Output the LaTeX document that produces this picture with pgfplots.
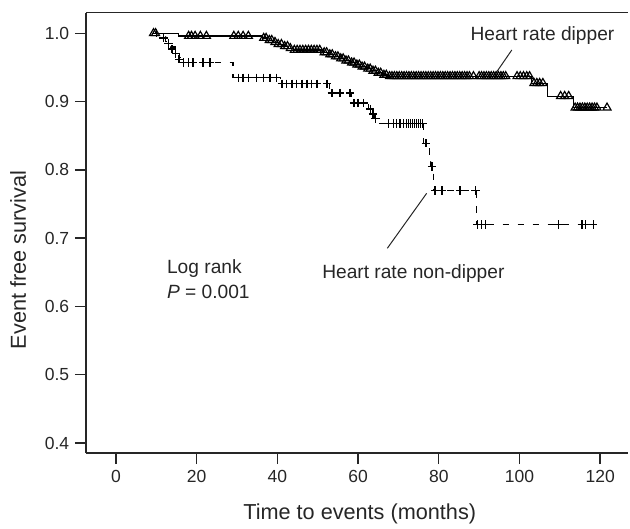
\documentclass[border=0pt]{standalone}
\usepackage{pgfplots}
\pgfplotsset{compat=1.18}
\usepackage{fontspec}
\setmainfont{Liberation Sans}
\definecolor{ink}{gray}{0.15}

\begin{document}
\begin{tikzpicture}
\begin{axis}[
    name=ax,
    scale only axis,
    width=325.2pt, height=264.2pt,
    xmin=-7.44, xmax=126.9,
    ymin=0.3854, ymax=1.0302,
    axis x line*=bottom,
    axis y line*=left,
    axis line style={ink, line width=0.8pt},
    tick align=outside,
    major tick length=6.6pt,
    tick style={ink, line width=0.8pt},
    xtick={0,20,...,120},
    ytick={0.4,0.5,...,1.0},
    yticklabel style={/pgf/number format/.cd, fixed, fixed zerofill, precision=1},
    ticklabel style={font=\fontsize{10.5}{12}\selectfont, text=ink},
    /pgf/number format/assume math mode=true,
    xlabel={Time to events (months)},
    ylabel={Event free survival},
    label style={font=\fontsize{13}{15}\selectfont, text=ink},
    xlabel style={at={(axis description cs:0.505,-0.139)}, anchor=center},
    ylabel style={at={(axis description cs:-0.125,0.438)}, anchor=center},
    clip=false,
]

% Heart rate dipper: survival curve
\addplot[const plot, black, line width=0.7pt] coordinates {
    (9.5,1.0) (15.4,0.996) (36.4,0.993) (37.5,0.990) (39,0.987) (40.2,0.984)
    (41.5,0.981) (42.8,0.978) (44,0.9755) (51.3,0.972) (52.6,0.969) (54,0.966)
    (55.3,0.963) (56.6,0.960) (58,0.957) (59.3,0.954) (60.6,0.951) (62,0.948)
    (63.3,0.945) (64.6,0.942) (66,0.939) (67.4,0.937) (103,0.927) (107,0.908)
    (113.3,0.891) (121.7,0.891)
};
% Heart rate dipper: censored cases
\addplot[only marks, mark=triangle, mark size=2.8pt, mark options={black, line width=0.7pt}] coordinates {
    (9.3,1.0) (9.8,1.0)
    (18.0,0.996) (18.7,0.996) (19.6,0.996) (20.9,0.996) (22.4,0.996)
    (29.2,0.996) (30.3,0.996) (31.5,0.996) (32.8,0.996)
    (36.6,0.993) (37.2,0.993) (38,0.990) (38.6,0.990) (39.4,0.987) (40.2,0.984)
    (41,0.984) (41.8,0.981) (42.5,0.981) (43.2,0.978)
    (44.2,0.9755) (44.9,0.9755) (45.6,0.9755) (46.3,0.9755) (47.0,0.9755)
    (47.7,0.9755) (48.4,0.9755) (49.1,0.9755) (49.8,0.9755) (50.5,0.9755)
    (51.6,0.972) (52.2,0.972) (53,0.969) (53.6,0.969) (54.4,0.966) (55,0.966)
    (55.7,0.963) (56.3,0.963) (57,0.960) (57.6,0.960) (58.4,0.957) (59,0.957)
    (59.7,0.954) (60.3,0.954) (61,0.951) (61.6,0.951) (62.4,0.948) (63,0.948)
    (63.7,0.945) (64.3,0.945) (65,0.942) (65.6,0.942) (66.4,0.939) (67,0.939)
    (67.8,0.937) (68.4,0.937) (69.0,0.937) (69.6,0.937) (70.2,0.937) (70.8,0.937)
    (71.4,0.937) (72.0,0.937) (72.6,0.937) (73.2,0.937) (73.8,0.937) (74.4,0.937)
    (75.0,0.937) (75.6,0.937) (76.2,0.937) (76.8,0.937) (77.4,0.937) (78.0,0.937)
    (78.6,0.937) (79.2,0.937) (79.8,0.937) (80.4,0.937) (81.0,0.937) (81.6,0.937)
    (82.2,0.937) (82.8,0.937) (83.4,0.937) (84.0,0.937) (84.6,0.937) (85.2,0.937)
    (85.8,0.937) (86.4,0.937) (87.0,0.937) (87.6,0.937) (88.6,0.937)
    (90.0,0.937) (90.6,0.937) (91.2,0.937) (91.8,0.937) (92.4,0.937) (93.0,0.937)
    (93.6,0.937) (94.2,0.937) (94.8,0.937) (95.4,0.937) (96.0,0.937) (96.6,0.937)
    (99.4,0.937) (100.2,0.937) (101,0.937) (101.8,0.937) (102.5,0.937)
    (103.6,0.927) (104.3,0.927) (105,0.927) (105.8,0.927)
    (110.2,0.908) (111.2,0.908) (112.2,0.908)
    (113.8,0.891) (114.4,0.891) (115.0,0.891) (115.6,0.891) (116.2,0.891)
    (116.8,0.891) (117.4,0.891) (118.0,0.891) (118.6,0.891) (119.2,0.891)
    (121.7,0.891)
};

% Heart rate non-dipper: survival curve
\addplot[const plot, black, line width=0.7pt, dash pattern=on 4pt off 5pt] coordinates {
    (9.4,1.0) (11,0.995) (12.3,0.988) (13.5,0.980) (14.6,0.972) (15.7,0.964)
    (16.3,0.957) (29,0.935) (40.7,0.926) (53,0.9125) (58.4,0.898) (62.5,0.889)
    (63.3,0.882) (64,0.875) (64.8,0.868) (76.3,0.839) (77.6,0.812) (78.0,0.805)
    (78.7,0.770) (89.3,0.720) (119.2,0.720)
};
% Heart rate non-dipper: censored cases
\addplot[only marks, mark=+, mark size=2.5pt, mark options={black, line width=0.8pt}] coordinates {
    (10,1.0) (11.8,0.993) (13,0.985) (13.9,0.977) (14.8,0.970) (15.6,0.962)
    (16.7,0.957) (17.9,0.957) (19.1,0.957) (21.6,0.957) (23.3,0.957)
    (30.3,0.935) (31.5,0.935) (32.8,0.935) (34.9,0.935) (36.5,0.935) (38.2,0.935) (39.7,0.935)
    (41.1,0.926) (42.3,0.926) (43.6,0.926) (44.8,0.926) (46.1,0.926) (47.3,0.926)
    (48.5,0.926) (49.8,0.926) (52.3,0.926)
    (53.5,0.9125) (55.5,0.9125) (58,0.9125)
    (59,0.898) (60,0.898) (61.4,0.898)
    (63,0.889) (63.7,0.882) (64.3,0.875)
    (67.5,0.868) (68.7,0.868) (69.6,0.868) (70.4,0.868) (71.2,0.868) (72,0.868)
    (72.5,0.868) (73,0.868) (73.5,0.868) (74,0.868) (74.5,0.868) (75,0.868)
    (75.5,0.868) (76,0.868)
    (76.8,0.839) (78.3,0.805)
    (79.1,0.770) (80.8,0.770) (85.3,0.770) (89.1,0.770)
    (89.6,0.720) (90.6,0.720) (91.5,0.720) (109.7,0.720) (115.5,0.720)
    (116.3,0.720) (118.3,0.720)
};

% annotations
\draw[ink, line width=0.6pt] (axis cs:98.1,0.9755) -- (axis cs:94.4,0.9438);
\node[font=\fontsize{11.5}{13}\selectfont, text=ink] at (axis cs:105.7,0.997) {Heart rate dipper};
\draw[ink, line width=0.6pt] (axis cs:67.25,0.6852) -- (axis cs:77.0,0.7657);
\node[font=\fontsize{11.5}{13}\selectfont, text=ink] at (axis cs:73.7,0.6486) {Heart rate non-dipper};
\node[font=\fontsize{11.5}{13}\selectfont, text=ink, anchor=west] at (axis cs:11.2,0.656) {Log rank};
\node[font=\fontsize{11.5}{13}\selectfont, text=ink, anchor=west] at (axis cs:11.2,0.6217) {\textit{P} = 0.001};
\end{axis}
\draw[ink, line width=0.8pt] (ax.north west) -- (ax.north east);
\pgfresetboundingbox
\path (-51.6pt,-45pt) rectangle (326.4pt,271.8pt);
\end{tikzpicture}
\end{document}
